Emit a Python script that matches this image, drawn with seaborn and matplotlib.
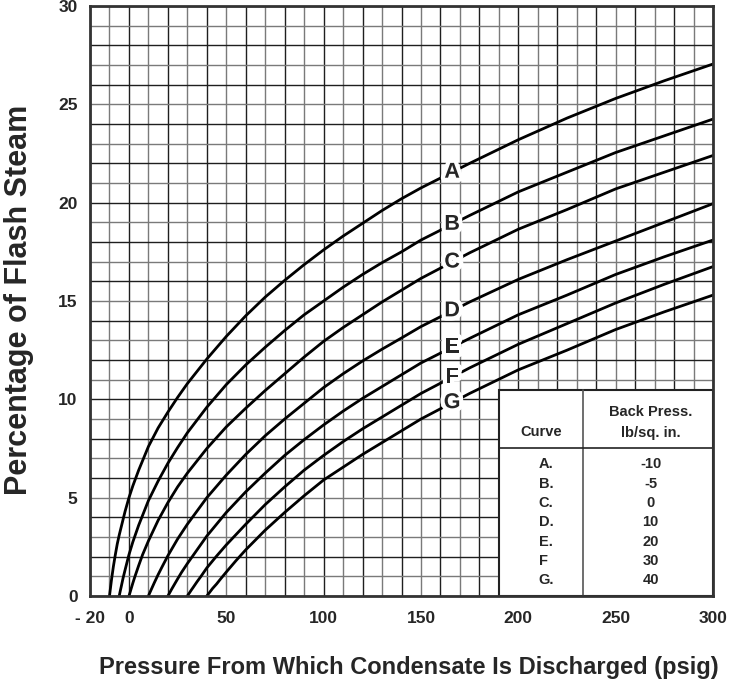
import pandas as pd
import matplotlib.pyplot as plt
import matplotlib.patheffects as pe
from matplotlib.patches import Rectangle
import seaborn as sns

# curve data: pressure (psig) vs % flash steam
a_x = [-10, -9.5, -9, -8, -7, -6, -5, -4, -2, 0, 2, 5, 10, 15, 20, 25, 30, 40, 50, 60, 70, 80, 90, 100, 110, 120, 130, 140, 150, 175, 200, 225, 250, 275, 300]
a_y = [0, 0.4, 0.8, 1.5, 2.1, 2.65, 3.1, 3.5, 4.3, 5.0, 5.6, 6.4, 7.6, 8.55, 9.35, 10.1, 10.8, 12.05, 13.2, 14.25, 15.2, 16.05, 16.85, 17.6, 18.3, 18.95, 19.6, 20.2, 20.75, 22.0, 23.2, 24.3, 25.3, 26.2, 27.05]

b_x = [-5, -4.5, -4, -3, -2, 0, 2, 5, 10, 15, 20, 25, 30, 40, 50, 60, 70, 80, 90, 100, 110, 120, 130, 140, 150, 175, 200, 225, 250, 275, 300]
b_y = [0, 0.24, 0.46, 0.92, 1.32, 2.1, 2.75, 3.6, 4.85, 5.85, 6.75, 7.55, 8.3, 9.6, 10.75, 11.75, 12.65, 13.5, 14.3, 15.0, 15.7, 16.35, 16.95, 17.5, 18.1, 19.35, 20.55, 21.55, 22.55, 23.4, 24.25]

c_x = [0, 0.5, 1, 2, 3, 5, 7, 10, 15, 20, 25, 30, 40, 50, 60, 70, 80, 90, 100, 110, 120, 130, 140, 150, 175, 200, 225, 250, 275, 300]
c_y = [0, 0.16, 0.33, 0.66, 0.97, 1.55, 2.1, 2.8, 3.85, 4.75, 5.55, 6.25, 7.5, 8.6, 9.55, 10.45, 11.3, 12.15, 12.95, 13.65, 14.3, 14.95, 15.55, 16.15, 17.45, 18.65, 19.65, 20.7, 21.55, 22.4]

d_x = [10, 10.5, 11, 12, 13, 15, 17, 20, 25, 30, 40, 50, 60, 70, 80, 90, 100, 110, 120, 130, 140, 150, 175, 200, 225, 250, 275, 300]
d_y = [0, 0.12, 0.23, 0.45, 0.67, 1.09, 1.48, 2.05, 2.9, 3.65, 5.0, 6.15, 7.2, 8.15, 9.0, 9.8, 10.6, 11.3, 11.95, 12.55, 13.12, 13.7, 14.95, 16.1, 17.1, 18.05, 19.0, 19.95]

e_x = [20, 20.5, 21, 22, 23, 25, 27, 30, 35, 40, 50, 60, 70, 80, 90, 100, 110, 120, 130, 140, 150, 175, 200, 225, 250, 275, 300]
e_y = [0, 0.09, 0.18, 0.36, 0.53, 0.87, 1.2, 1.65, 2.35, 3.05, 4.25, 5.3, 6.25, 7.15, 7.95, 8.7, 9.4, 10.05, 10.65, 11.25, 11.85, 13.1, 14.3, 15.3, 16.35, 17.25, 18.1]

f_x = [30, 30.5, 31, 32, 33, 35, 37, 40, 45, 50, 60, 70, 80, 90, 100, 110, 120, 130, 140, 150, 175, 200, 225, 250, 275, 300]
f_y = [0, 0.08, 0.15, 0.3, 0.44, 0.73, 1.0, 1.43, 2.03, 2.6, 3.65, 4.65, 5.55, 6.4, 7.15, 7.85, 8.5, 9.1, 9.7, 10.3, 11.6, 12.8, 13.85, 14.9, 15.85, 16.75]

g_x = [40, 40.5, 41, 42, 43, 45, 47, 50, 55, 60, 70, 80, 90, 100, 110, 120, 130, 140, 150, 175, 200, 225, 250, 275, 300]
g_y = [0, 0.07, 0.13, 0.26, 0.39, 0.61, 0.86, 1.22, 1.8, 2.35, 3.35, 4.25, 5.1, 5.9, 6.55, 7.2, 7.8, 8.4, 9.0, 10.3, 11.5, 12.5, 13.55, 14.45, 15.3]

curve_names = ['A', 'B', 'C', 'D', 'E', 'F', 'G']
label_x = 166

# legend table
table_curves = ['A.', 'B.', 'C.', 'D.', 'E.', 'F', 'G.']
table_press = ['-10', '-5', '0', '10', '20', '30', '40']

xticks = [-20, 0, 50, 100, 150, 200, 250, 300]
xticklabels = ['- 20', '0', '50', '100', '150', '200', '250', '300']
yticks = [0, 5, 10, 15, 20, 25, 30]

xs = [a_x, b_x, c_x, d_x, e_x, f_x, g_x]
ys = [a_y, b_y, c_y, d_y, e_y, f_y, g_y]
frames = [pd.DataFrame({'pressure': x, 'flash': y, 'curve': n}) for x, y, n in zip(xs, ys, curve_names)]
df = pd.concat(frames, ignore_index=True)

sns.set_style('white')
FONT = ['Liberation Sans', 'DejaVu Sans']
plt.rcParams['font.family'] = FONT
plt.rcParams['font.weight'] = 'bold'

fig = plt.figure(figsize=(7.33, 6.9), dpi=100)
ax = fig.add_axes([0.1228, 0.1362, 0.8499, 0.8551])

# grid
for gx in range(-20, 301, 10):
    ax.axvline(gx, color='#1e1e1e' if gx % 20 == 0 else '#7a7a7a', lw=1.0, zorder=1)
for gy in range(0, 31):
    ax.axhline(gy, color='#1e1e1e' if gy % 2 == 0 else '#7a7a7a', lw=1.0, zorder=1)

sns.lineplot(data=df, x='pressure', y='flash', hue='curve', units='curve', estimator=None,
             sort=False, palette={n: 'black' for n in curve_names}, lw=2, legend=False, ax=ax, zorder=3)

# curve letters sitting in a gap of each line
for x, y, n in zip(xs, ys, curve_names):
    ly = pd.Series(y, index=x).reindex(sorted(set(x) | {label_x})).interpolate('index')[label_x]
    ax.text(label_x, ly, n, ha='center', va='center', fontsize=15.5, fontweight='bold',
            zorder=5, path_effects=[pe.withStroke(linewidth=6, foreground='white')])

# table
t_left, t_right, t_top, t_mid, t_head = 190, 300, 10.45, 233, 7.55
ax.add_patch(Rectangle((t_left, 0), t_right - t_left, t_top, facecolor='white',
                       edgecolor='#222222', lw=1.5, zorder=6))
ax.plot([t_mid, t_mid], [0, t_top], color='#555555', lw=1.2, zorder=7)
ax.plot([t_left, t_right], [t_head, t_head], color='#222222', lw=1.2, zorder=7)
ax.text((t_left + t_mid) / 2, 8.35, 'Curve', ha='center', va='center', fontsize=10.5, zorder=8)
ax.text(268, 9.35, 'Back Press.', ha='center', va='center', fontsize=10.5, zorder=8)
ax.text(268, 8.27, 'lb/sq. in.', ha='center', va='center', fontsize=10.5, zorder=8)
for i, (c, p) in enumerate(zip(table_curves, table_press)):
    yy = 6.7 - i * 0.985
    ax.text(210.5, yy, c, ha='left', va='center', fontsize=10.5, zorder=8)
    ax.text(268, yy, p, ha='center', va='center', fontsize=10.5, zorder=8)

ax.set_xlim(-20, 300)
ax.set_ylim(0, 30)
ax.set_xticks(xticks)
ax.set_xticklabels(xticklabels)
ax.set_yticks(yticks)
ax.tick_params(length=0, labelsize=12.5)
ax.tick_params(axis='x', pad=11)
ax.tick_params(axis='y', pad=9)
for lab in ax.get_xticklabels() + ax.get_yticklabels():
    lab.set_fontweight('bold')
ax.set_xlabel('')
ax.set_ylabel('')
for s in ax.spines.values():
    s.set_color('#333333')
    s.set_linewidth(2)
    s.set_zorder(9)

fig.text(0.026, 0.565, 'Percentage of Flash Steam', rotation=90, ha='center', va='center',
         fontsize=22, fontweight='bold')
fig.text(0.558, 0.032, 'Pressure From Which Condensate Is Discharged (psig)', ha='center',
         va='center', fontsize=17, fontweight='bold')

plt.savefig('out.png', dpi=100)
